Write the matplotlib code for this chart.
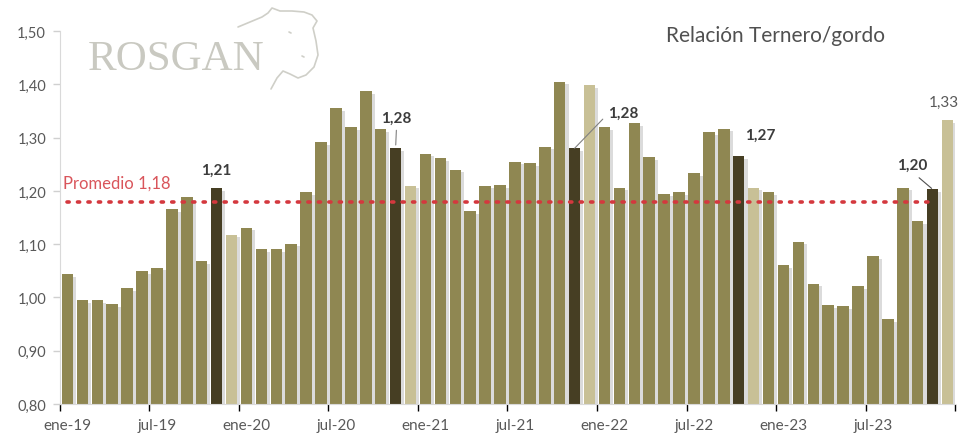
import matplotlib.pyplot as plt
import matplotlib.patheffects as pe
from matplotlib.lines import Line2D
import numpy as np

plt.rcParams['font.family'] = ['Lato', 'DejaVu Sans']

# Relación ternero/gordo, mensual ene-19 .. dic-23
ratio = [1.044, 0.995, 0.995, 0.988, 1.018, 1.050, 1.056, 1.166, 1.188, 1.068, 1.205, 1.118,
         1.131, 1.091, 1.091, 1.101, 1.198, 1.292, 1.356, 1.319, 1.387, 1.316, 1.281, 1.210,
         1.270, 1.262, 1.240, 1.162, 1.210, 1.211, 1.255, 1.252, 1.283, 1.405, 1.280, 1.399,
         1.319, 1.206, 1.327, 1.263, 1.195, 1.197, 1.233, 1.311, 1.317, 1.266, 1.206, 1.197,
         1.060, 1.105, 1.026, 0.986, 0.984, 1.022, 1.078, 0.959, 1.206, 1.143, 1.203, 1.333]
promedio = 1.18
tick_labels = ['ene-19', 'jul-19', 'ene-20', 'jul-20', 'ene-21',
               'jul-21', 'ene-22', 'jul-22', 'ene-23', 'jul-23']
dark_idx = [10, 22, 34, 45, 58]    # meses destacados (oscuro)
light_idx = [11, 23, 35, 46, 59]   # mes siguiente (claro)

colors = ['#8f8752'] * len(ratio)
for i in dark_idx:
    colors[i] = '#463e23'
for i in light_idx:
    colors[i] = '#c8c096'

x = np.arange(len(ratio))

fig = plt.figure(figsize=(9.64, 4.39), dpi=100)
ax = fig.add_axes([0.0622, 0.0774, 0.9285, 0.8496])

bars = ax.bar(x, ratio, width=0.77, color=colors, zorder=2)
for b in bars:
    b.set_path_effects([pe.SimplePatchShadow(offset=(2.2, -2), shadow_rgbFace='#949494', alpha=0.33),
                        pe.Normal()])

ax.plot(x[:-1], [promedio] * (len(ratio) - 1), color='#d4383e', lw=2.6,
        ls=(0, (0.6, 2.3)), dash_capstyle='round', zorder=3)
ax.text(-0.3, 1.216, 'Promedio 1,18', color='#d9555b', fontsize=12,
        ha='left', va='center')

ax.set_ylim(0.8, 1.5)
ax.set_xlim(-0.5, len(ratio) - 0.5)
yt = np.arange(0.8, 1.51, 0.1)
ax.set_yticks(yt)
ax.set_yticklabels([f'{v:.2f}'.replace('.', ',') for v in yt])
ax.set_xticks(x[::6])
ax.set_xticklabels(tick_labels)
ax.set_xticks(np.arange(-0.5, len(ratio), 6), minor=True)
ax.tick_params(axis='both', colors='#d0d0d0', labelcolor='#595959')
ax.tick_params(axis='y', length=5, width=1, labelsize=10.5, pad=5)
ax.tick_params(axis='x', which='major', length=0, labelsize=11, pad=10)
ax.tick_params(axis='x', which='minor', length=5, width=1)
for s in ['top', 'right']:
    ax.spines[s].set_visible(False)
ax.spines['left'].set_color('#d9d9d9')
ax.spines['bottom'].set_color('#d9d9d9')

# etiquetas
lab = dict(fontsize=11, fontweight='bold', color='#3c3c3c', ha='center', va='center',
           textcoords='offset pixels')
ax.annotate('1,21', (10, ratio[10]), xytext=(0, 18), **lab)
ax.annotate('1,28', (22, ratio[22]), xytext=(1, 30),
            arrowprops=dict(arrowstyle='-', color='#808080', lw=0.8, relpos=(0.5, 0),
                            shrinkA=2, shrinkB=2), **lab)
ax.annotate('1,28', (34, ratio[34]), xytext=(49, 35),
            arrowprops=dict(arrowstyle='-', color='#808080', lw=0.8, relpos=(0, 0.5),
                            shrinkA=3, shrinkB=0), **lab)
ax.annotate('1,27', (45, ratio[45]), xytext=(22, 21), **lab)
ax.annotate('1,20', (58, ratio[58]), xytext=(-20, 24),
            arrowprops=dict(arrowstyle='-', color='#505050', lw=0.8, relpos=(0.5, 0),
                            shrinkA=3, shrinkB=1), **lab)
ax.annotate('1,33', (59, ratio[59]), xytext=(-4, 18), fontsize=11, color='#595959',
            ha='center', va='center', textcoords='offset pixels')

fig.text(0.6905, 0.918, 'Relación Ternero/gordo', fontsize=15, color='#505050',
         ha='left', va='center')

# logo
fig.text(0.091, 0.865, 'ROSGAN', fontsize=31, color='#c9c9c1',
         family='Liberation Serif', ha='left', va='center')
W, H = 964.0, 439.0
cow = [[(238, 28), (250, 23), (262, 18), (268, 14), (272, 9), (280, 12), (292, 12),
        (304, 13), (312, 16), (317, 22), (313, 29), (316, 42), (318, 56), (314, 68),
        (306, 76), (298, 79), (290, 75), (283, 72), (277, 79), (271, 90)],
       [(289, 33), (291, 34)], [(302, 57), (304, 58)]]
for seg in cow:
    px = [p[0] / W for p in seg]
    py = [1 - p[1] / H for p in seg]
    fig.add_artist(Line2D(px, py, color='#cfcfc8', lw=1.2, solid_capstyle='round'))

fig.savefig('out.png', dpi=100)
